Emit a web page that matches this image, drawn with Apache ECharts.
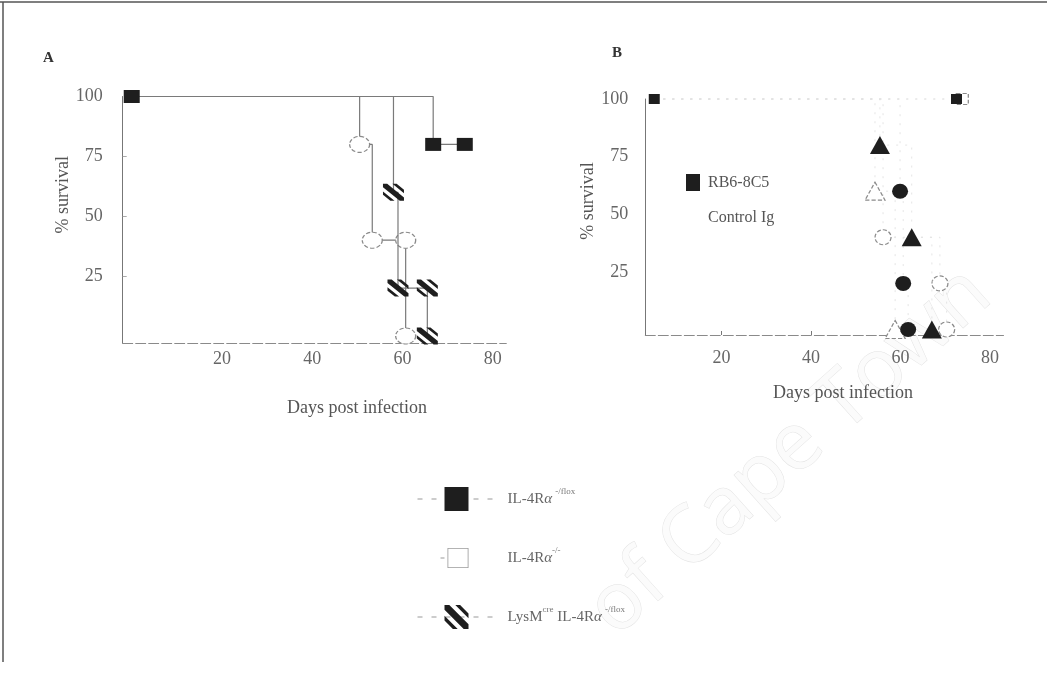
<!DOCTYPE html>
<html>
<head>
<meta charset="utf-8">
<title>Survival after infection</title>
<script src="https://cdn.jsdelivr.net/npm/echarts@6/dist/echarts.min.js"></script>
<style>
  html, body { margin: 0; padding: 0; background: #fff; }
  #chart { width: 1047px; height: 681px; }
</style>
</head>
<body>
<div id="chart"></div>
<script>
// Tick labels
const dayTicks = [20, 40, 60, 80];
const survivalTicks = [25, 50, 75, 100];

// Panel A: Kaplan-Meier points [day, % survival]
const aFlox = [[0, 100], [66.8, 80], [73.8, 80]];
const aKO = [[0, 100], [50.5, 80], [53.3, 40], [60.7, 40], [60.7, 0]];
const aLysM = [[0, 100], [58, 60], [59, 20], [65.5, 20], [65.5, 0]];

// Panel B: antibody-treated groups [day, % survival]
const bRbFlox = [[5, 100], [72.5, 100]];
const bCtlFlox = [[5, 100], [73.8, 100]];
const bRbLysM = [[5, 100], [55.4, 80], [62.5, 40], [67, 0]];
const bCtlLysM = [[5, 100], [54.3, 60], [58.8, 0]];
const bRbKO = [[5, 100], [59.9, 60], [60.6, 20], [61.7, 0]];
const bCtlKO = [[5, 100], [56.1, 40], [68.8, 20], [70.3, 0]];

// Names
const nFlox = 'IL-4Rα-/flox';
const nKO = 'IL-4Rα-/-';
const nLysM = 'LysMcre IL-4Rα-/flox';
const nRb = 'RB6-8C5';
const nCtl = 'Control Ig';

const SERIF = '"Liberation Serif", "DejaVu Serif", serif';
const INK = '#1e1e1e';
const HATCH = 'path://M0,0L2,0L10,8L10,10L8,10L0,2Z M0,4.5L5.5,10L3.5,10L0,6.5Z M4.5,0L6.5,0L10,3.5L10,5.5Z';
// open box icon inside a 78x30 frame: thin outline plus a short dash on its left
const OPEN_BOX = 'path://M0,0 M78,30 M30,5h21v20h-21z M30.8,5.8v18.4h19.4v-18.4z M23,14.6h4v0.8h-4z';

// first point of the overlapping curves carries no marker
function pts(arr, hideFirst) {
  return arr.map((p, i) => (hideFirst && i === 0) ? { value: p, symbol: 'none' } : p);
}

const chart = echarts.init(document.getElementById('chart'), null, { renderer: 'canvas' });

const labelStyle = { color: '#666', fontFamily: SERIF, fontSize: 18 };
const nameStyle = { color: '#555', fontFamily: SERIF, fontSize: 18 };

function xAxisFor(grid, min, max, gap, pad, labelMargin, ticks) {
  return {
    gridIndex: grid, type: 'value', min: min, max: max,
    name: 'Days post infection', nameLocation: 'middle', nameGap: gap,
    nameTextStyle: Object.assign({ padding: [0, 0, 0, pad] }, nameStyle),
    axisLine: { onZero: false, lineStyle: { color: '#8a8a8a', width: 1, type: [10, 3] } },
    axisTick: { show: ticks, inside: true, length: 4, customValues: [20, 40], lineStyle: { color: '#777' } },
    axisLabel: Object.assign({ customValues: dayTicks, margin: labelMargin }, labelStyle),
    splitLine: { show: false }
  };
}
function yAxisFor(grid, min, gap, pad, labelMargin, ticks) {
  return {
    gridIndex: grid, type: 'value', min: min, max: 100,
    name: '% survival', nameLocation: 'middle', nameGap: gap,
    nameTextStyle: Object.assign({ padding: [0, 0, 0, pad] }, nameStyle),
    axisLine: { onZero: false, lineStyle: { color: '#777', width: 1 } },
    axisTick: { show: ticks, inside: true, length: 4, customValues: [25, 50, 75], lineStyle: { color: '#aaa' } },
    axisLabel: Object.assign({ customValues: survivalTicks, margin: labelMargin }, labelStyle),
    splitLine: { show: false }
  };
}

const lineA = { color: '#7a7a7a', width: 1.2 };
const lineB = { color: '#e2e2e2', width: 0.9, type: [2, 7] };
const openStyle = { color: '#fff', borderColor: '#8a8a8a', borderWidth: 1.2, borderType: [4, 2] };

function step(name, data, x, y, symbol, size, itemStyle, lineStyle, hideFirst, z) {
  return {
    type: 'line', name: name, xAxisIndex: x, yAxisIndex: y, step: 'end',
    data: pts(data, hideFirst), symbol: symbol, symbolSize: size, showSymbol: true,
    itemStyle: itemStyle, lineStyle: lineStyle, clip: false, z: z, emphasis: { disabled: true }
  };
}

const rich = {
  t: { fontFamily: SERIF, fontSize: 15, color: '#666', lineHeight: 24 },
  a: { fontFamily: SERIF, fontSize: 15, color: '#666', fontStyle: 'italic', lineHeight: 24 },
  s: { fontFamily: SERIF, fontSize: 9, color: '#777', verticalAlign: 'top', lineHeight: 24 }
};
function richName(name) {
  if (name === nFlox) return '{t|IL-4R}{a|α} {s|-/flox}';
  if (name === nKO) return '{t|IL-4R}{a|α}{s|-/-}';
  if (name === nLysM) return '{t|LysM}{s|cre}{t| IL-4R}{a|α} {s|-/flox}';
  return name;
}

const option = {
  animation: false,
  backgroundColor: '#fff',
  grid: [
    { left: 122.7, top: 96.5, width: 383.6, height: 246.7 },
    { left: 645.3, top: 99, width: 358.2, height: 236 }
  ],
  xAxis: [
    xAxisFor(0, -2, 83, 56, 85, 7, false),
    xAxisFor(1, 3, 83, 49, 37, 14, true)
  ],
  yAxis: [
    yAxisFor(0, -3, 36, 50, 20, true),
    yAxisFor(1, -2.4, 42, 32, 17, false)
  ],
  legend: [
    {
      data: [nFlox, { name: nKO, icon: OPEN_BOX, itemStyle: { color: '#9a9a9a', borderWidth: 0 } }, nLysM],
      orient: 'vertical', left: 412, top: 482,
      itemWidth: 78, itemHeight: 30, itemGap: 32,
      selectedMode: false,
      lineStyle: { color: '#999', width: 1, type: [5, 9] },
      formatter: richName,
      textStyle: { rich: rich, padding: [0, 0, 0, 7] }
    },
    {
      data: [
        { name: nRb, icon: 'rect', itemStyle: { color: INK } },
        { name: nCtl, icon: 'rect', itemStyle: { color: 'transparent', borderWidth: 0 } }
      ],
      orient: 'vertical', left: 681, top: 169,
      itemWidth: 14, itemHeight: 17, itemGap: 18,
      selectedMode: false,
      textStyle: { fontFamily: SERIF, fontSize: 16, color: '#555', padding: [0, 0, 0, 3] }
    }
  ],
  graphic: [
    { type: 'line', shape: { x1: 0, y1: 2, x2: 1047, y2: 2 }, style: { stroke: '#555', lineWidth: 1.5 } },
    { type: 'line', shape: { x1: 3, y1: 2, x2: 3, y2: 662 }, style: { stroke: '#555', lineWidth: 1.5 } },
    { type: 'text', left: 43, top: 51, style: { text: 'A', font: 'bold 15px ' + SERIF, fill: '#333' } },
    { type: 'text', left: 612, top: 46, style: { text: 'B', font: 'bold 15px ' + SERIF, fill: '#333' } },
    {
      type: 'text', x: 790, y: 452, rotation: 0.73, z: -1,
      style: {
        text: 'of Cape Town', font: '80px "Open Sans", "DejaVu Sans", sans-serif',
        fill: '#fbfbfb', stroke: '#e3e3e3', lineWidth: 1, align: 'center', verticalAlign: 'middle'
      }
    }
  ],
  series: [
    // Panel A
    step(nKO, aKO, 0, 0, 'circle', [20, 16], openStyle, lineA, true, 3),
    step(nLysM, aLysM, 0, 0, HATCH, [21, 17], { color: INK }, lineA, true, 4),
    step(nFlox, aFlox, 0, 0, 'rect', [16, 13], { color: INK }, lineA, false, 5),
    // Panel B
    step(nCtl, bCtlFlox, 1, 1, 'rect', [12, 11], openStyle, lineB, true, 3),
    step(nCtl, bCtlLysM, 1, 1, 'triangle', [20, 18], openStyle, lineB, true, 3),
    step(nCtl, bCtlKO, 1, 1, 'circle', [16, 15], openStyle, lineB, true, 3),
    step(nRb, bRbLysM, 1, 1, 'triangle', [20, 18], { color: INK }, lineB, true, 4),
    step(nRb, bRbKO, 1, 1, 'circle', [16, 15], { color: INK }, lineB, true, 4),
    step(nRb, bRbFlox, 1, 1, 'rect', [11, 10], { color: INK }, lineB, false, 5)
  ]
};

chart.setOption(option);
</script>
</body>
</html>
